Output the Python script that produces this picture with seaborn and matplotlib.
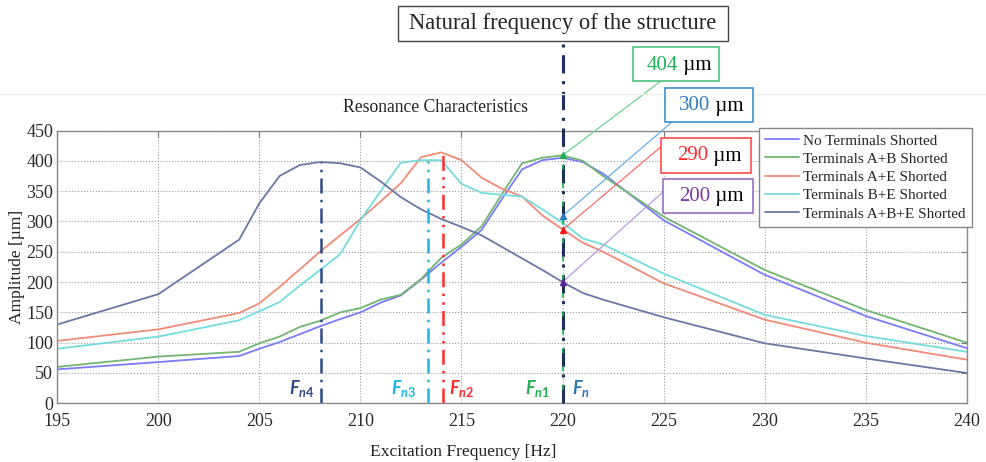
import pandas as pd
import seaborn as sns
import matplotlib.pyplot as plt
from matplotlib.patches import Rectangle
from matplotlib.lines import Line2D

# datos
freq = [195, 200, 204, 205, 206, 207, 208, 209, 210, 211, 212, 213, 214,
        215, 216, 217, 218, 219, 220, 221, 222, 225, 230, 235, 240]

no_short = [56, 68, 78, 90, 101, 114, 127, 139, 150, 166, 178, 204, 232,
            258, 286, 337, 386, 401, 405, 398, 379, 302, 212, 144, 91]
ab_short = [60, 77, 85, 99, 110, 126, 136, 150, 157, 171, 179, 205, 240,
            262, 292, 345, 396, 405, 409, 400, 375, 308, 220, 154, 100]
ae_short = [103, 122, 149, 165, 192, 221, 250, 277, 304, 333, 363, 406, 414,
            401, 372, 354, 341, 310, 287, 265, 250, 198, 138, 100, 72]
be_short = [90, 110, 137, 152, 167, 194, 220, 246, 302, 350, 397, 401, 401,
            362, 347, 344, 341, 320, 298, 272, 262, 214, 146, 111, 85]
abe_short = [130, 180, 270, 330, 375, 393, 398, 396, 389, 366, 340, 320, 304,
             291, 277, 258, 239, 220, 200, 182, 171, 142, 99, 74, 50]

series_names = ['No Terminals Shorted', 'Terminals A+B Shorted', 'Terminals A+E Shorted',
                'Terminals B+E Shorted', 'Terminals A+B+E Shorted']
series_vals = [no_short, ab_short, ae_short, be_short, abe_short]
series_colors = ['#7b7bfa', '#72b472', '#f28a78', '#74dcdc', '#6b76a6']

# frecuencias naturales (lineas verticales)
fn_freq = [208.05, 213.35, 214.1]
fn_top = [398, 399, 413]
fn_labels = ['n4', 'n3', 'n2']
fn_colors = ['#2f4a86', '#1db4ea', '#ff2a2a']
fn_text_x = [207.1, 212.15, 215.0]

# anotaciones en 220 Hz
ann_vals = [409, 309, 286, 200]
ann_text = ['404', '300', '290', '200']

df = pd.DataFrame({
    'freq': freq * len(series_names),
    'amp': [v for vals in series_vals for v in vals],
    'serie': [n for n in series_names for _ in freq],
})

sns.set_style('white')
plt.rcParams['font.family'] = ['Liberation Serif', 'DejaVu Serif']
plt.rcParams['mathtext.fontset'] = 'custom'
plt.rcParams['mathtext.it'] = 'Lato:bold:italic'
plt.rcParams['mathtext.rm'] = 'Lato:bold'

W, H = 987, 462
fig = plt.figure(figsize=(W / 100, H / 100), dpi=100)
ax = fig.add_axes([57.3 / W, 1 - 403.3 / H, (966.7 - 57.3) / W, (403.3 - 130.5) / H])

sns.lineplot(data=df, x='freq', y='amp', hue='serie', hue_order=series_names,
             palette=dict(zip(series_names, series_colors)), linewidth=1.3,
             estimator=None, ax=ax)

leg = ax.get_legend()
handles = leg.legend_handles
labels = [t.get_text() for t in leg.texts]
leg.remove()

ax.set_xlim(195, 240)
ax.set_ylim(0, 450)
ax.set_xticks(range(195, 241, 5))
ax.set_yticks(range(0, 451, 50))
ax.grid(True, linestyle=':', color='#9a9a9a', linewidth=0.8)
for s in ax.spines.values():
    s.set_color('#8a8a8a')
    s.set_linewidth(1.0)
ax.tick_params(direction='in', length=4, color='#777777', top=True, right=True,
               labelsize=13, labelcolor='#2a2a2a')
ax.tick_params(axis='x', pad=7)
ax.tick_params(axis='y', pad=3)
ax.set_xlabel('')
ax.set_ylabel('')

# lineas de frecuencia natural
for f, top, lab, c, tx in zip(fn_freq, fn_top, fn_labels, fn_colors, fn_text_x):
    dash = (0, (6, 2.5, 1, 2.5, 1, 2.5)) if lab == 'n2' else (0, (6, 2.5, 1, 2.5))
    ax.plot([f, f], [0, top], color=c, linewidth=1.8, linestyle=dash, zorder=4)
    ax.text(tx, 25, r'$\mathit{F_{%s}}$' % lab, color=c, fontsize=13,
            ha='center', va='center')

ax.plot([220, 220], [0, 597], color='#1f2f55', linewidth=2.2,
        linestyle=(0, (6, 2.5, 1, 2.5)), clip_on=False, zorder=4)
ax.plot([220, 220], [0, 405], color='#22b04c', linewidth=1.2,
        linestyle=(3, (3, 8)), zorder=5)
ax.text(218.75, 25, r'$\mathit{F_{n1}}$', color='#22b04c', fontsize=13, ha='center', va='center')
ax.text(220.9, 25, r'$\mathit{F_{n}}$', color='#2e75b6', fontsize=13, ha='center', va='center')

ax.legend(handles, labels, loc='upper left', bbox_to_anchor=(759 / W, 1 - 127.7 / H),
          bbox_transform=fig.transFigure, borderaxespad=0, fontsize=11,
          handlelength=2.2, handletextpad=0.3, labelspacing=0.3, borderpad=0.4,
          fancybox=False, framealpha=1, edgecolor='#888888')

# cajas de anotacion
boxes = [(633.3, 46.7, 719.3, 81.0), (665.0, 87.7, 752.7, 122.3),
         (661.0, 137.7, 751.0, 172.7), (663.3, 179.0, 752.7, 212.7)]
split_x = [678, 710.5, 708.5, 710]
text_y = [65, 106, 156, 196.5]
line_end = [(661, 81), (671.7, 122.3), (661, 146.7), (663.3, 191.7)]
edge_c = ['#4cc27a', '#3b8fd6', '#ff4a4a', '#9a6cc8']
text_c = ['#1fae55', '#2e7bc4', '#ff2a2a', '#7a3aa6']
line_c = ['#6fd093', '#6aaee6', '#ff6a6a', '#b79ade']
mark_c = ['#1fae55', '#2e7bc4', '#ff1a1a', '#5a2a96']

for i in range(4):
    x0, y0, x1, y1 = boxes[i]
    ax.annotate('', xy=(220, ann_vals[i]), xycoords='data',
                xytext=(line_end[i][0] / W, 1 - line_end[i][1] / H),
                textcoords='figure fraction', annotation_clip=False,
                arrowprops=dict(arrowstyle='-', color=line_c[i], lw=0.9,
                                shrinkA=0, shrinkB=0))
    ax.plot(220, ann_vals[i], marker='^', markersize=5, color=mark_c[i],
            clip_on=False, zorder=6)
    fig.add_artist(Rectangle((x0 / W, 1 - y1 / H), (x1 - x0) / W, (y1 - y0) / H,
                             transform=fig.transFigure, facecolor='white',
                             edgecolor=edge_c[i], linewidth=1.2, zorder=5))
    fig.text(split_x[i] / W, 1 - text_y[i] / H, ann_text[i], color=text_c[i],
             fontsize=15, ha='right', va='center', zorder=6)
    fig.text(split_x[i] / W, 1 - text_y[i] / H, ' \u00b5m', color='black',
             fontsize=15, ha='left', va='center', zorder=6)

# caja superior
fig.add_artist(Rectangle((398 / W, 1 - 41 / H), 330 / W, 35 / H, transform=fig.transFigure,
                         facecolor='white', edgecolor='#444444', linewidth=1.0, zorder=5))
fig.text(563 / W, 1 - 23.5 / H, 'Natural frequency of the structure', fontsize=16.3,
         ha='center', va='center', zorder=6)

# borde tenue de la figura original
fig.add_artist(Line2D([0, 1], [1 - 94 / H, 1 - 94 / H], color='#eeeeee', linewidth=1))

fig.text(435.5 / W, 1 - 108 / H, 'Resonance Characteristics', fontsize=12.7,
         ha='center', va='center', color='#222222')
fig.text(463 / W, 1 - 451.7 / H, 'Excitation Frequency [Hz]', fontsize=12.6,
         ha='center', va='center', color='#222222')
fig.text(17 / W, 1 - 267 / H, 'Amplitude [\u00b5m]', fontsize=12.6, rotation=90,
         ha='center', va='center', color='#222222')

fig.savefig('out.png', dpi=100)
